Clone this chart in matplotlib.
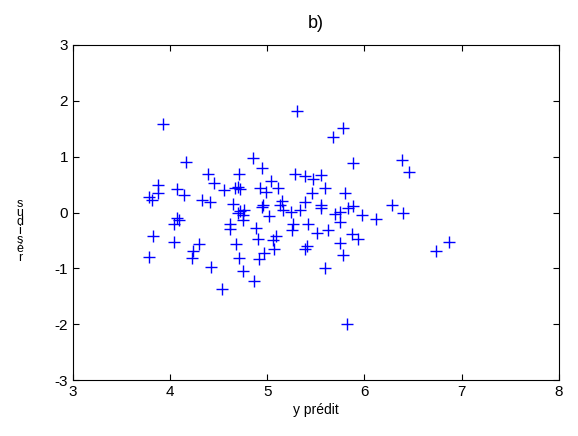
import numpy as np
import matplotlib
matplotlib.use("Agg")
import matplotlib.pyplot as plt

plt.rcParams['font.family'] = ['Liberation Sans', 'DejaVu Sans']
plt.rcParams['axes.unicode_minus'] = False

# predicted y vs residuals
y_pred = [3.93, 5.31, 4.16, 4.85, 4.95, 4.39, 4.71, 5.29, 5.39, 5.47,
          3.88, 4.45, 4.55, 4.67, 4.72, 4.70, 4.07, 4.14, 3.78, 3.81,
          3.88, 4.93, 4.99, 5.04, 5.11, 4.33, 4.41, 4.65, 4.96, 4.95,
          5.15, 5.13, 5.16, 5.24, 5.34, 5.39, 4.72, 4.76, 4.75, 5.02,
          4.07, 5.78, 5.68, 5.88, 6.39, 6.46, 5.55, 5.59, 5.46, 5.80,
          5.55, 5.55, 5.88, 5.83, 5.70, 5.75, 5.97, 6.12, 6.28, 6.40,
          4.70, 4.75, 4.04, 4.09, 4.62, 4.62, 4.88, 5.26, 5.25, 5.42,
          3.82, 4.04, 4.68, 4.90, 5.09, 5.06, 5.07, 5.39, 5.41, 4.30,
          4.24, 4.23, 3.78, 4.71, 4.97, 4.92, 4.42, 4.75, 4.86, 4.53,
          5.51, 5.62, 5.75, 5.87, 5.93, 5.75, 5.78, 5.59, 5.82, 6.74,
          6.87]
residus = [1.58, 1.81, 0.90, 0.98, 0.80, 0.69, 0.69, 0.69, 0.65, 0.60,
           0.49, 0.52, 0.40, 0.44, 0.42, 0.45, 0.43, 0.31, 0.27, 0.23,
           0.35, 0.44, 0.36, 0.56, 0.44, 0.23, 0.18, 0.15, 0.13, 0.10,
           0.21, 0.13, 0.04, 0.01, 0.04, 0.18, 0.02, 0.05, -0.05, -0.07,
           -0.09, 1.52, 1.35, 0.88, 0.94, 0.72, 0.67, 0.44, 0.35, 0.35,
           0.14, 0.08, 0.11, 0.08, -0.02, 0.01, -0.05, -0.11, 0.13, -0.01,
           -0.01, -0.13, -0.20, -0.14, -0.20, -0.30, -0.27, -0.20, -0.32, -0.21,
           -0.42, -0.53, -0.57, -0.48, -0.42, -0.49, -0.66, -0.65, -0.60, -0.57,
           -0.69, -0.81, -0.79, -0.81, -0.72, -0.84, -0.97, -1.04, -1.23, -1.36,
           -0.36, -0.32, -0.17, -0.38, -0.47, -0.55, -0.76, -0.99, -1.99, -0.69,
           -0.52]

xticks = [3, 4, 5, 6, 7, 8]
yticks = [-3, -2, -1, 0, 1, 2, 3]

fig = plt.figure(figsize=(5.78, 4.36), dpi=100)
ax = fig.add_axes([0.126, 0.128, 0.841, 0.769])

ax.plot(y_pred, residus, '+', color='blue', markersize=9, markeredgewidth=1)

ax.set_xlim(3, 8)
ax.set_ylim(-3, 3)
ax.set_xticks(xticks)
ax.set_yticks(yticks)
ax.tick_params(direction='in', top=True, right=True, labelsize=11, length=4)
for s in ax.spines.values():
    s.set_linewidth(0.8)

ax.set_title("b)", fontsize=13, pad=12)
ax.set_xlabel("y prédit", fontsize=10, labelpad=3)

# stacked vertical label as in the original
fig.text(20 / 578, 1 - 231 / 436, "s\nu\nd\ni\ns\né\nr", fontsize=9,
         ha='center', va='center', linespacing=0.68)

fig.savefig("out.png", dpi=100)
